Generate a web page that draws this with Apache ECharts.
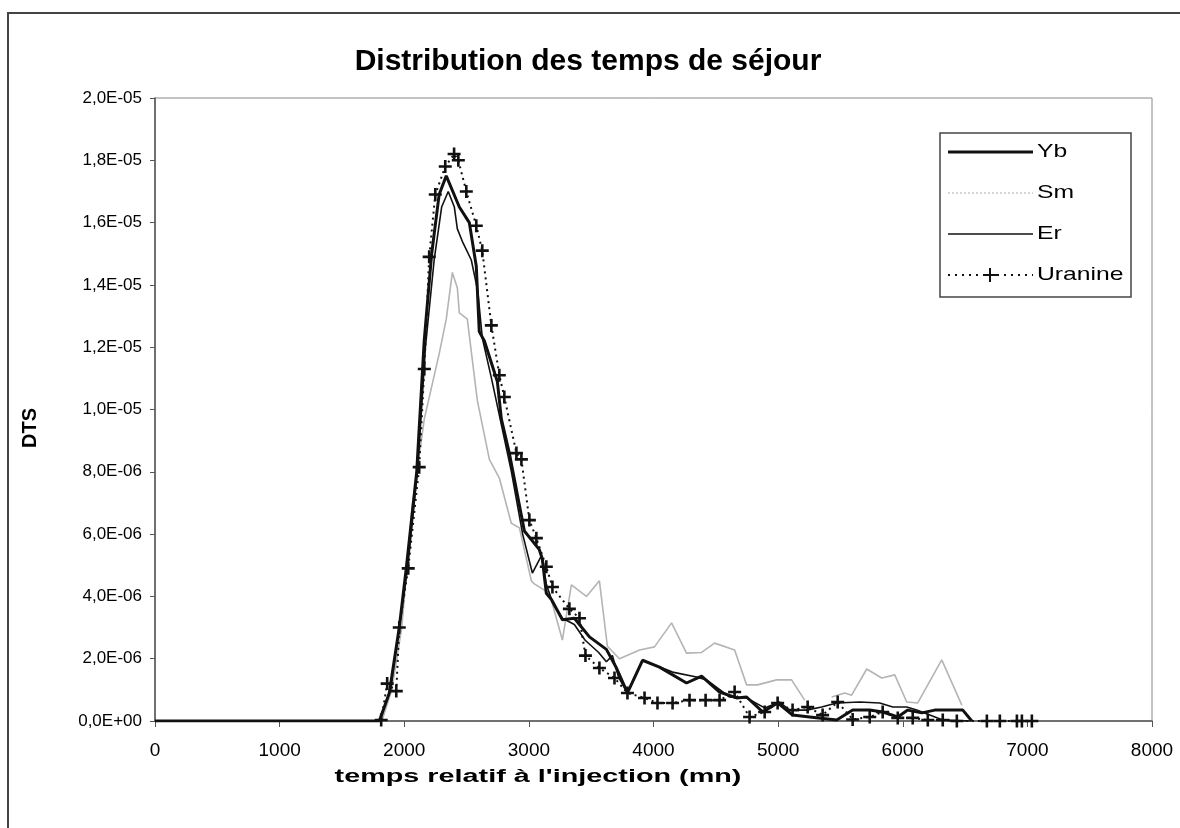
<!DOCTYPE html>
<html>
<head>
<meta charset="utf-8">
<script src="https://cdn.jsdelivr.net/npm/echarts@6/dist/echarts.min.js"></script>
<style>html,body{margin:0;padding:0;background:#fff}#c{width:1180px;height:828px}</style>
</head>
<body>
<div id="c"></div>
<script>
// values in units of 1E-06
const ybX = [0,1000,1800,1880,1960,2016,2100,2160,2220,2280,2337,2442,2522,2578,2602,2643,2747,2779,2843,2964,3084,3108,3140,3181,3269,3365,3486,3622,3703,3791,3912,4048,4265,4386,4530,4667,4747,4876,4996,5116,5253,5470,5598,5735,5839,5960,6040,6153,6257,6482,6554];
const ybY = [0,0,0,0.9,3.0,4.9,8.0,12.2,15.0,16.9,17.5,16.5,16.0,14.6,12.5,12.2,10.9,9.7,8.6,6.1,5.5,5.2,4.1,3.9,3.25,3.3,2.7,2.3,1.7,0.9,1.95,1.73,1.22,1.44,0.93,0.74,0.77,0.29,0.58,0.19,0.13,0.03,0.35,0.35,0.29,0.13,0.35,0.26,0.35,0.35,0];

const smX = [0,1000,1820,1900,1980,2064,2161,2281,2337,2386,2426,2442,2506,2586,2683,2763,2859,2924,3020,3044,3165,3269,3341,3462,3566,3630,3727,3888,4008,4145,4265,4386,4490,4651,4747,4835,4988,5108,5213,5237,5430,5534,5590,5711,5831,5936,6032,6120,6313,6474];
const smY = [0,0,0,1.0,3.0,6.9,9.7,11.8,12.9,14.4,13.9,13.1,12.9,10.3,8.4,7.8,6.35,6.2,4.5,4.4,4.1,2.6,4.37,4.0,4.5,2.4,2.0,2.28,2.38,3.15,2.18,2.2,2.5,2.28,1.16,1.16,1.32,1.32,0.67,null,0.77,0.9,0.83,1.67,1.38,1.48,0.61,0.58,1.96,0.51];

const erX = [0,1000,1800,1890,1960,2030,2110,2170,2240,2300,2353,2402,2426,2466,2538,2590,2626,2700,2780,2860,2950,3028,3100,3140,3190,3269,3365,3450,3560,3622,3670,3720,3791,3912,4153,4345,4426,4610,4747,4892,5012,5092,5229,5349,5470,5655,5815,5920,6032,6112,6217,6321,6538];
const erY = [0,0,0,1.0,3.0,5.0,8.2,12.0,14.8,16.5,17.0,16.5,15.8,15.4,14.8,13.8,12.3,11.0,9.5,8.0,6.0,4.75,5.3,4.4,3.8,3.3,3.1,2.6,2.2,1.9,2.1,1.4,0.9,1.95,1.57,1.41,1.32,0.77,0.74,0.42,0.61,0.35,0.35,0.45,0.58,0.61,0.58,0.45,0.45,0.35,0.19,0.03,0];

const urX = [1815,1863,1936,1960,2032,2120,2161,2200,2249,2329,2400,2434,2498,2578,2626,2699,2763,2803,2900,2940,3004,3060,3140,3189,3325,3406,3454,3566,3687,3791,3928,4032,4153,4289,4418,4530,4651,4771,4892,4996,5116,5237,5357,5478,5598,5735,5839,5960,6080,6201,6321,6434,6675,6779,6916,6956,7036];
const urY = [0.03,1.2,0.96,3.0,4.9,8.15,11.3,14.9,16.9,17.8,18.2,18.0,17.0,15.9,15.1,12.7,11.1,10.4,8.6,8.4,6.45,5.87,4.95,4.3,3.6,3.3,2.1,1.7,1.38,0.9,0.74,0.58,0.58,0.67,0.67,0.67,0.93,0.13,0.29,0.58,0.35,0.45,0.19,0.61,0.05,0.13,0.29,0.1,0.1,0.03,0.03,0,0,0,0,0,0];

const seriesNames = ['Yb','Sm','Er','Uranine'];
const titleText = 'Distribution des temps de séjour';
const xName = "temps relatif à l'injection (mn)";
const yName = 'DTS';

function pairs(xs, ys){ return xs.map((x,i)=>[x, ys[i]]); }
function fmtY(v){
  if (v === 0) return '0,0E+00';
  let m, e;
  if (v >= 10) { m = v/10; e = '-05'; } else { m = v; e = '-06'; }
  return m.toFixed(1).replace('.', ',') + 'E' + e;
}
const FONT = '"Liberation Sans", Arial, sans-serif';
const plus = 'path://M4,0H6V4H10V6H6V10H4V6H0V4H4Z';

const lineStyles = {
  Yb:{color:'#111', width:3},
  Sm:{color:'#b4b4b4', width:1.6},
  Er:{color:'#111', width:1.6},
  Uranine:{color:'#111', width:2, type:[2,4]}
};

// legend drawn as graphics
const legX = 940, legY = 133, legW = 191, legH = 164, rowY0 = 152, rowStep = 41;
const legendGraphics = [
  {type:'rect', shape:{x:legX, y:legY, width:legW, height:legH}, style:{fill:'#fff', stroke:'#444', lineWidth:1.5}, z:10}
];
seriesNames.forEach((n, i) => {
  const y = rowY0 + i*rowStep;
  const ls = lineStyles[n];
  legendGraphics.push({type:'line', shape:{x1:948, y1:y, x2:1033, y2:y},
    style:{stroke: n==='Sm' ? '#c8c8c8' : ls.color, lineWidth: n==='Sm' ? 1.5 : ls.width, lineDash: n==='Sm' ? [2,2] : (n==='Uranine' ? [2,5] : null)}, z:11});
  if (n === 'Uranine') {
    legendGraphics.push({type:'polygon', shape:{points:[[-7,-1],[-1,-1],[-1,-7],[1,-7],[1,-1],[7,-1],[7,1],[1,1],[1,7],[-1,7],[-1,1],[-7,1]]},
      x:990, y:y, style:{fill:'#111'}, z:12});
  }
  legendGraphics.push({type:'text', x:1037, y:y, scaleX:1.3, style:{text:n, fontFamily:FONT, fontSize:19, fill:'#000', align:'left', verticalAlign:'middle'}, z:12});
});

const chart = echarts.init(document.getElementById('c'), null, {renderer:'canvas'});
chart.setOption({
  backgroundColor:'#fff',
  animation:false,
  title:{text:titleText, left:583, top:42, textAlign:'center',
    textStyle:{fontFamily:FONT, fontSize:30, fontWeight:'bold', color:'#000'}},
  grid:{left:155, top:98, width:997, height:623, show:true, borderColor:'#888', borderWidth:1, backgroundColor:'#fff'},
  xAxis:{type:'value', min:0, max:8000, interval:1000,
    axisLine:{lineStyle:{color:'#555', width:1.5}},
    axisTick:{show:true, length:6, lineStyle:{color:'#555'}},
    splitLine:{show:false},
    axisLabel:{fontFamily:FONT, fontSize:19, color:'#000', margin:20, formatter:(v)=>String(v)}
  },
  yAxis:{type:'value', min:0, max:20, interval:2,
    axisLine:{show:true, lineStyle:{color:'#555', width:1.5}},
    axisTick:{show:true, length:5, lineStyle:{color:'#555'}},
    splitLine:{show:false},
    axisLabel:{fontFamily:FONT, fontSize:17, color:'#000', margin:13, formatter:fmtY}
  },
  series:[
    {name:'Yb', type:'line', data:pairs(ybX,ybY), showSymbol:false, symbol:'none',
      lineStyle:lineStyles.Yb, itemStyle:{color:'#111'}, z:4},
    {name:'Sm', type:'line', data:pairs(smX,smY), showSymbol:false, symbol:'none', connectNulls:false,
      lineStyle:lineStyles.Sm, itemStyle:{color:'#b4b4b4'}, z:2},
    {name:'Er', type:'line', data:pairs(erX,erY), showSymbol:false, symbol:'none',
      lineStyle:lineStyles.Er, itemStyle:{color:'#111'}, z:3},
    {name:'Uranine', type:'line', data:pairs(urX,urY), symbol:plus, symbolSize:13, showSymbol:true,
      lineStyle:lineStyles.Uranine, itemStyle:{color:'#111'}, z:5}
  ],
  graphic:[
    {type:'rect', shape:{x:8, y:13, width:1180, height:830}, style:{fill:'none', stroke:'#444', lineWidth:2}, silent:true, z:-1},
    {type:'text', x:538, y:777, scaleX:1.6, style:{text:xName, fontFamily:FONT, fontSize:18, fontWeight:'bold', fill:'#000', align:'center', verticalAlign:'middle'}},
    {type:'text', x:30, y:428, rotation:Math.PI/2, style:{text:yName, fontFamily:FONT, fontSize:20, fontWeight:'bold', fill:'#000', align:'center', verticalAlign:'middle'}}
  ].concat(legendGraphics)
});
</script>
</body>
</html>
